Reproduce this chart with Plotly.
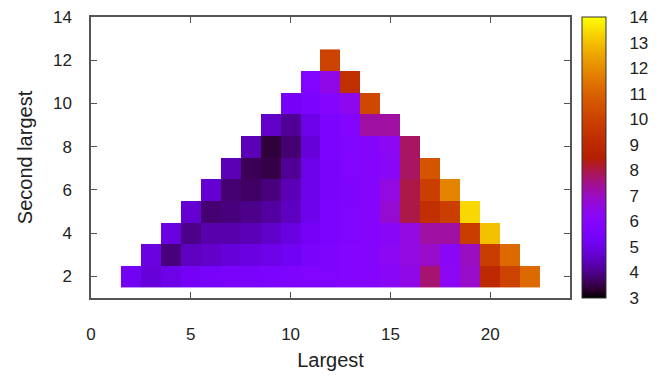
import numpy as np
import plotly.graph_objects as go

# Largest values (x) and second largest (y)
largest = list(range(2, 23))
second_largest = list(range(2, 13))

# rows: value for each x from x=y to x=24-y
row_2 = [5.2, 4.8, 5.0, 5.3, 5.4, 5.5, 5.5, 5.6, 5.7, 5.8, 5.8, 5.9, 6.0, 6.2, 6.5, 7.7, 6.3, 6.9, 9.0, 10.0, 11.2]
row_3 = [4.9, 3.9, 4.5, 4.6, 4.8, 4.9, 5.0, 5.2, 5.5, 5.7, 5.9, 6.0, 6.3, 6.6, 6.9, 6.2, 7.0, 9.8, 11.2]
row_4 = [4.9, 4.0, 4.3, 4.3, 4.4, 4.6, 4.9, 5.3, 5.6, 5.8, 6.0, 6.2, 6.6, 7.3, 7.3, 9.8, 13.0]
row_5 = [4.7, 3.8, 3.9, 4.0, 4.2, 4.5, 5.1, 5.6, 5.8, 6.0, 6.8, 8.0, 9.3, 9.9, 13.4]
row_6 = [4.7, 3.8, 3.7, 3.9, 4.4, 5.0, 5.5, 5.7, 6.0, 6.6, 8.0, 9.9, 11.8]
row_7 = [4.4, 3.6, 3.5, 4.1, 5.0, 5.5, 5.8, 6.0, 6.2, 7.8, 10.6]
row_8 = [4.4, 3.4, 3.8, 4.8, 5.6, 5.8, 6.0, 6.3, 7.8]
row_9 = [4.6, 4.1, 5.0, 5.6, 5.9, 7.3, 7.3]
row_10 = [5.3, 5.6, 6.0, 6.4, 10.2]
row_11 = [5.8, 6.5, 9.3]
row_12 = [10.0]
rows = [row_2, row_3, row_4, row_5, row_6, row_7, row_8, row_9, row_10, row_11, row_12]

cbar_ticks = list(range(3, 15))

z = []
for y, vals in zip(second_largest, rows):
    r = [None] * len(largest)
    for i, v in enumerate(vals):
        r[(y + i) - largest[0]] = v
    z.append(r)

# gnuplot rgbformulae 7,5,15 palette
def pal(t):
    r = np.sqrt(t)
    g = t ** 3
    b = np.clip(np.sin(2 * np.pi * t), 0, 1)
    return "rgb(%d,%d,%d)" % (round(r * 255), round(g * 255), round(b * 255))

cs = [[t, pal(t)] for t in np.linspace(0, 1, 41)]

fig = go.Figure(go.Heatmap(
    x=largest, y=second_largest, z=z,
    colorscale=cs, zmin=3, zmax=14, hoverongaps=False,
    colorbar=dict(
        x=1.025, xanchor="left", y=0.5, yanchor="middle", len=1, lenmode="fraction",
        xpad=0, ypad=0,
        thickness=24, thicknessmode="pixels",
        outlinecolor="#333", outlinewidth=1,
        tickvals=cbar_ticks, ticks="outside", ticklen=20, tickcolor="rgba(0,0,0,0)",
        tickfont=dict(size=17, color="#222", family="Liberation Sans, Arial"),
    ),
))

axis_common = dict(
    showgrid=False, zeroline=False, showline=True, linecolor="#555", linewidth=1.5,
    mirror="ticks", ticks="inside", ticklen=6, tickcolor="#555",
    tickfont=dict(size=17, color="#222", family="Liberation Sans, Arial"),
)

fig.update_layout(
    width=663, height=379,
    margin=dict(l=91, r=93, t=17, b=81, autoexpand=False),
    paper_bgcolor="white", plot_bgcolor="white",
    font=dict(family="Liberation Sans, Arial", size=17, color="#222"),
    xaxis=dict(range=[0, 24], tickvals=[0, 5, 10, 15, 20], ticklabelstandoff=20,
               title=dict(text="Largest", standoff=10), **axis_common),
    yaxis=dict(range=[1, 14], tickvals=[2, 4, 6, 8, 10, 12, 14], ticklabelstandoff=14,
               title=dict(text="Second largest", standoff=15), **axis_common),
)

fig.write_html("out.html")
